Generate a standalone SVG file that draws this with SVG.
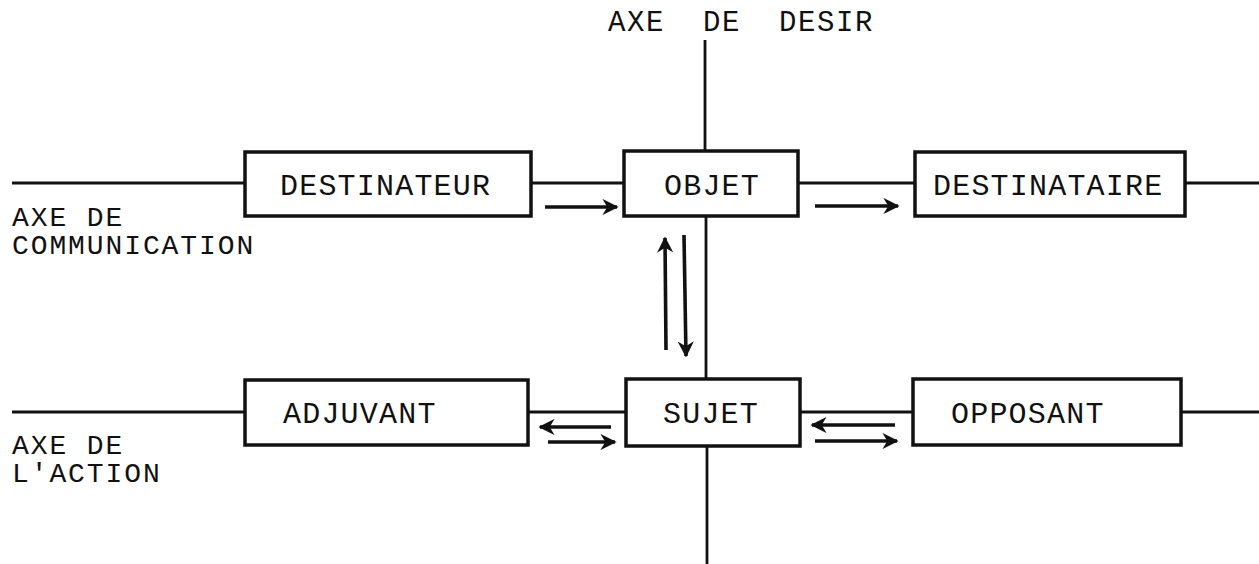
<svg xmlns="http://www.w3.org/2000/svg" width="1259" height="564" viewBox="0 0 1259 564">
<style>
.box{fill:#fff;stroke:#111;stroke-width:3.5}
.ln{stroke:#111;stroke-width:2.8;fill:none}
.ar{stroke:#111;stroke-width:3.6;fill:none;marker-end:url(#ah)}
.t{font-family:"Liberation Mono","DejaVu Sans Mono",monospace;font-size:30px;letter-spacing:1.2px;fill:#111}
.lb{font-family:"Liberation Mono","DejaVu Sans Mono",monospace;font-size:28px;letter-spacing:1.9px;fill:#111}
</style>
<defs>
<marker id="ah" viewBox="0 0 10 10" refX="9" refY="5" markerWidth="4.5" markerHeight="4.5" orient="auto" markerUnits="strokeWidth">
<path d="M0,0 L10,5 L0,10 L3,5 Z" fill="#111"/>
</marker>
</defs>
<rect width="1259" height="564" fill="#fff"/>
<g id="connectors">
<line class="ln" x1="12" y1="183" x2="245" y2="183"/>
<line class="ln" x1="531" y1="183" x2="624" y2="183"/>
<line class="ln" x1="798" y1="183" x2="915" y2="183"/>
<line class="ln" x1="1185" y1="183" x2="1259" y2="183"/>
<line class="ln" x1="12" y1="412" x2="245" y2="412"/>
<line class="ln" x1="528" y1="412" x2="626" y2="412"/>
<line class="ln" x1="800" y1="412" x2="913" y2="412"/>
<line class="ln" x1="1181" y1="412" x2="1259" y2="412"/>
<line class="ln" x1="705" y1="40" x2="705" y2="151"/>
<line class="ln" x1="706" y1="217" x2="706" y2="379"/>
<line class="ln" x1="707" y1="446" x2="707" y2="564"/>
<line class="ar" x1="545" y1="207" x2="617" y2="207"/>
<line class="ar" x1="815" y1="206" x2="898" y2="206"/>
<line class="ar" x1="666" y1="350" x2="665" y2="238"/>
<line class="ar" x1="684" y1="235" x2="686" y2="356"/>
<line class="ar" x1="611" y1="427" x2="540" y2="427"/>
<line class="ar" x1="548" y1="442" x2="615" y2="442"/>
<line class="ar" x1="895" y1="425" x2="812" y2="425"/>
<line class="ar" x1="815" y1="441" x2="897" y2="441"/>
</g>
<g id="destinateur"><rect class="box" x="245" y="152" width="286" height="64"/><text class="t" x="280" y="195">DESTINATEUR</text></g>
<g id="objet"><rect class="box" x="624" y="151" width="174" height="65"/><text class="t" x="664" y="195">OBJET</text></g>
<g id="destinataire"><rect class="box" x="915" y="152" width="270" height="64"/><text class="t" x="933" y="195">DESTINATAIRE</text></g>
<g id="adjuvant"><rect class="box" x="245" y="380" width="283" height="65"/><text class="t" x="283" y="423">ADJUVANT</text></g>
<g id="sujet"><rect class="box" x="626" y="379" width="174" height="67"/><text class="t" x="663" y="423">SUJET</text></g>
<g id="opposant"><rect class="box" x="913" y="379" width="268" height="66"/><text class="t" x="951" y="423">OPPOSANT</text></g>
<g id="labels">
<text class="lb" x="608" y="31" xml:space="preserve" style="letter-spacing:1.6px;font-size:29px">AXE  DE  DESIR</text>
<text class="lb" x="12" y="226">AXE DE</text>
<text class="lb" x="12" y="254">COMMUNICATION</text>
<text class="lb" x="12" y="454">AXE DE</text>
<text class="lb" x="12" y="482">L'ACTION</text>
</g>
</svg>
